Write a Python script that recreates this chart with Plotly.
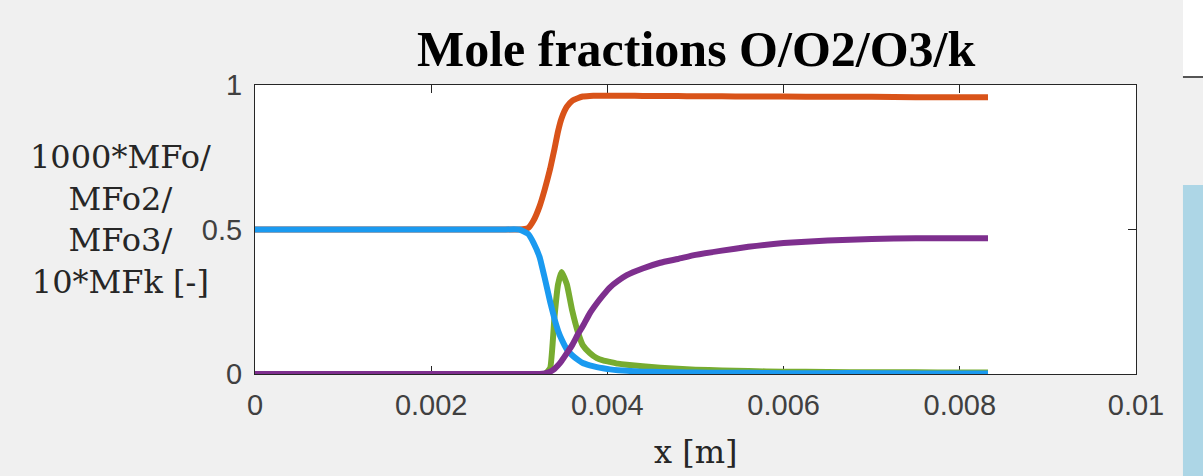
import plotly.graph_objects as go

# Axial position [m]
x_m = [0, 0.0010, 0.0020, 0.0025, 0.0028, 0.0030, 0.00310, 0.00316, 0.00323, 0.00329,
       0.00335, 0.00340, 0.00344, 0.00348, 0.00354, 0.00360, 0.00367, 0.00372,
       0.00380, 0.00388, 0.00395, 0.00403, 0.00412, 0.00422, 0.00440, 0.00460,
       0.00480, 0.00500, 0.00530, 0.00560, 0.00600, 0.00650, 0.00700, 0.00750,
       0.00800, 0.00832]

# Scaled mole fractions
mf_o_x1000 = [0, 0, 0, 0, 0, 0, 0, 0, 0, 0,
              0.02, 0.20, 0.31, 0.353, 0.31, 0.22, 0.14, 0.10,
              0.073, 0.055, 0.047, 0.042, 0.036, 0.032, 0.027, 0.022,
              0.018, 0.015, 0.012, 0.010, 0.008, 0.007, 0.006, 0.006,
              0.005, 0.005]
mf_o2 = [0.5, 0.5, 0.5, 0.5, 0.5, 0.5, 0.505, 0.53, 0.58, 0.64,
         0.71, 0.78, 0.84, 0.885, 0.925, 0.945, 0.955, 0.96,
         0.962, 0.963, 0.963, 0.963, 0.963, 0.963, 0.962, 0.962,
         0.962, 0.961, 0.961, 0.960, 0.960, 0.959, 0.959, 0.958,
         0.958, 0.958]
mf_o3 = [0.5, 0.5, 0.5, 0.5, 0.5, 0.5, 0.485, 0.455, 0.405, 0.33,
         0.25, 0.19, 0.15, 0.12, 0.085, 0.065, 0.048, 0.038,
         0.030, 0.024, 0.020, 0.016, 0.013, 0.011, 0.008, 0.007,
         0.006, 0.005, 0.004, 0.004, 0.003, 0.003, 0.003, 0.002,
         0.002, 0.002]
mf_k_x10 = [0, 0, 0, 0, 0, 0, 0, 0, 0, 0.002,
            0.008, 0.018, 0.03, 0.045, 0.072, 0.10, 0.14, 0.165,
            0.21, 0.245, 0.272, 0.30, 0.322, 0.342, 0.365, 0.385,
            0.398, 0.412, 0.427, 0.44, 0.453, 0.462, 0.467, 0.47,
            0.47, 0.47]

x_ticks = [0, 0.002, 0.004, 0.006, 0.008, 0.01]
x_tick_text = ["0", "0.002", "0.004", "0.006", "0.008", "0.01"]
y_ticks = [0, 0.5, 1]
y_tick_text = ["0", "0.5", "1"]

series = [
    ("MFo2", mf_o2, "#D95319"),
    ("1000*MFo", mf_o_x1000, "#77AC30"),
    ("MFo3", mf_o3, "#1A9AF0"),
    ("10*MFk", mf_k_x10, "#7E2F8E"),
]

fig = go.Figure()
for name, vals, color in series:
    fig.add_trace(go.Scatter(x=x_m, y=vals, mode="lines", name=name,
                             line=dict(color=color, width=6, shape="spline", smoothing=0.4),
                             cliponaxis=False))

axis_common = dict(showline=True, linecolor="#262626", linewidth=1, mirror="ticks",
                   ticks="inside", ticklen=8, tickcolor="#262626", showgrid=False,
                   zeroline=False, layer="below traces",
                   tickfont=dict(family="Liberation Sans, Arial", size=29, color="#404040"))

fig.update_xaxes(range=[0, 0.01], tickvals=x_ticks, ticktext=x_tick_text,
                 ticklabelstandoff=5, **axis_common)
fig.update_yaxes(range=[0, 1], tickvals=y_ticks, ticktext=y_tick_text,
                 ticklabelstandoff=6, **axis_common)

serif = "DejaVu Serif, serif"
fig.update_layout(
    width=1203, height=476,
    margin=dict(l=255, r=67, t=85, b=102),
    paper_bgcolor="#F0F0F0", plot_bgcolor="#FFFFFF",
    showlegend=False,
    annotations=[
        dict(text="<b>Mole fractions O/O2/O3/k</b>", xref="paper", yref="paper",
             x=0.5, y=1.125, xanchor="center", yanchor="middle", showarrow=False,
             font=dict(family="Liberation Serif, Times New Roman, serif", size=50,
                       color="#000000")),
        dict(text="1000*MFo/<br>MFo2/<br>MFo3/<br>10*MFk [-]", xref="paper", yref="paper",
             x=-0.153, y=0.533, xanchor="center", yanchor="middle", align="center",
             showarrow=False, font=dict(family=serif, size=32, color="#262626")),
        dict(text="x [m]", xref="paper", yref="paper",
             x=0.5, y=-0.27, xanchor="center", yanchor="middle", showarrow=False,
             font=dict(family=serif, size=32, color="#262626")),
    ],
    shapes=[
        dict(type="rect", xref="paper", yref="paper", x0=1.0533, x1=1.08, y0=1.0277, y1=1.30,
             fillcolor="#FFFFFF", line=dict(width=0)),
        dict(type="line", xref="paper", yref="paper", x0=1.0533, x1=1.08, y0=1.0277, y1=1.0277,
             line=dict(color="#555555", width=2)),
        dict(type="rect", xref="paper", yref="paper", x0=1.0533, x1=1.08, y0=-0.36, y1=0.654,
             fillcolor="#ADD6E6", line=dict(width=0)),
    ],
)

fig.write_html("out.html")
